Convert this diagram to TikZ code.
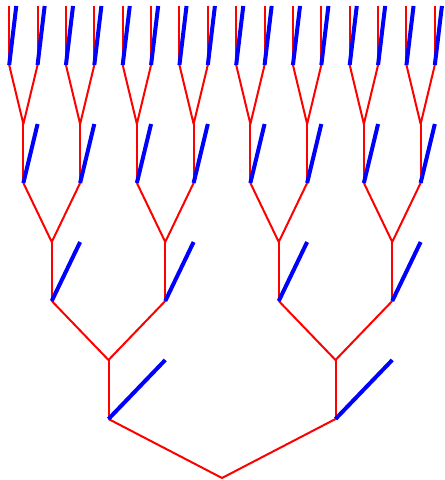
\documentclass[tikz,border=0pt]{standalone}
\begin{document}
\begin{tikzpicture}[line join = round,x=0.5pt,y=0.5pt]
	\tikzset{stem/.style={red,line width=1pt}, twig/.style={blue,line width=2pt}}
	\useasboundingbox (0,0) rectangle (444,480);
	\path
	(222,2) coordinate(R)
	(108.5,61) coordinate(L)
	(335.5,61) coordinate(Q)
	;
	\draw[stem] (L)--(R)--(Q);
	\foreach \k in {1,...,4}{
		\pgfmathtruncatemacro\n{2^\k-1}
		\pgfmathsetmacro\d{227/2^(\k+1)}
		\pgfmathsetmacro\ya{2+59*(2*\k-1)}
		\pgfmathsetmacro\yb{\ya+59}
		\foreach \j in {0,...,\n}{
			\pgfmathsetmacro\xx{-5+227*(2*\j+1)/2^\k}
			\path
			(\xx,\ya) coordinate(A)
			(\xx,\yb) coordinate(B)
			(\xx+\d,\yb) coordinate(C)
			(\xx-\d,\yb+59) coordinate(D)
			(\xx+\d,\yb+59) coordinate(E)
			;
			\draw[stem] (A)--(B);
			\ifnum\k<4 \draw[stem] (D)--(B)--(E); \fi
			\draw[twig] (A)--(C);
		}
	}
\end{tikzpicture}
\end{document}
